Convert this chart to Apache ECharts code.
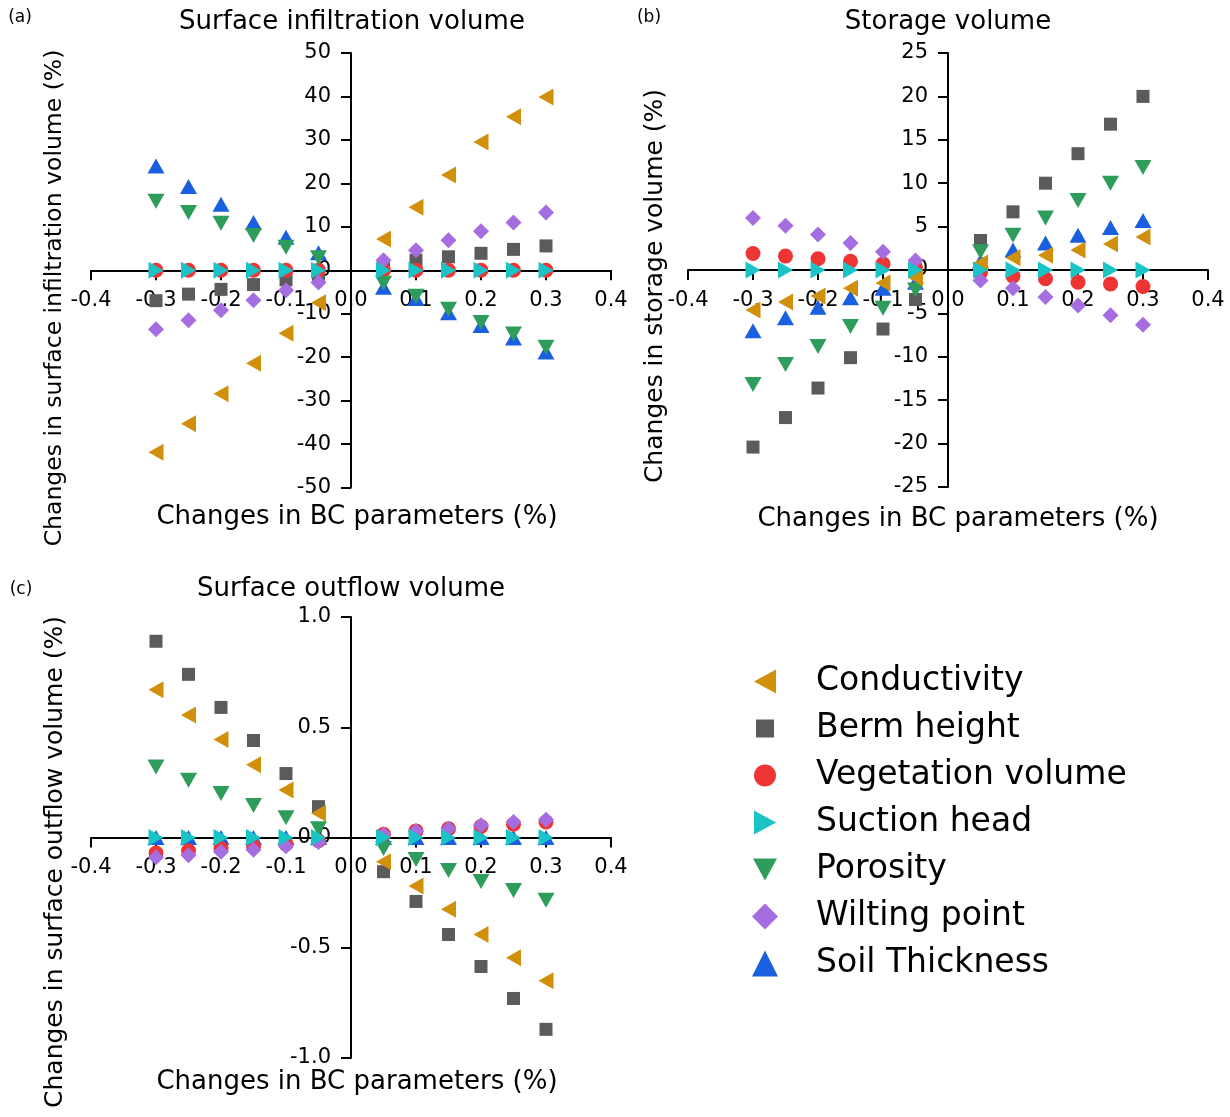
<!DOCTYPE html>
<html>
<head>
<meta charset="utf-8">
<title>Sensitivity of BC parameters</title>
<script src="https://cdn.jsdelivr.net/npm/echarts@6/dist/echarts.min.js"></script>
<style>
  html, body { margin: 0; padding: 0; background: #fff; }
  #main { width: 1230px; height: 1117px; }
</style>
</head>
<body>
<div id="main"></div>
<script>
// changes in BC parameters (x for every panel)
const paramChanges = [-0.3, -0.25, -0.2, -0.15, -0.1, -0.05, 0.05, 0.1, 0.15, 0.2, 0.25, 0.3]

// (a) surface infiltration volume, %
const infilConductivity = [-41.9, -35.3, -28.4, -21.4, -14.5, -7.5, 7.2, 14.5, 21.9, 29.5, 35.3, 39.9]
const infilBerm = [-7, -5.5, -4.4, -3.3, -2.2, -1.1, 1.1, 2.3, 3.1, 3.9, 4.8, 5.6]
const infilVegetation = [0, 0, 0, 0, 0, 0, 0, 0, 0, 0, 0, 0]
const infilSuction = [0, 0, 0, 0, 0, 0, 0, 0, 0, 0, 0, 0]
const infilPorosity = [15.9, 13.3, 10.8, 8.0, 5.3, 2.9, -3.0, -6.0, -9.0, -12.0, -14.7, -17.7]
const infilWilting = [-13.6, -11.5, -9.2, -6.9, -4.6, -2.8, 2.3, 4.6, 6.9, 9.0, 11.0, 13.3]
const infilSoil = [24, 19.3, 15.2, 11, 7.6, 4, -3.9, -6.5, -9.8, -12.7, -15.6, -18.8]

// (b) storage volume, %
const storConductivity = [-4.6, -3.7, -3.0, -2.1, -1.5, -0.9, 0.8, 1.4, 1.7, 2.3, 3.0, 3.8]
const storBerm = [-20.4, -17.0, -13.6, -10.1, -6.8, -3.4, 3.4, 6.7, 10.0, 13.4, 16.8, 20.0]
const storVegetation = [1.9, 1.6, 1.3, 1.0, 0.7, 0.3, -0.3, -0.7, -1.0, -1.4, -1.6, -1.9]
const storSuction = [0, 0, 0, 0, 0, 0, 0, 0, 0, 0, 0, 0]
const storPorosity = [-13.2, -10.9, -8.8, -6.5, -4.4, -2.3, 2.1, 4.0, 6.0, 8.0, 10.0, 11.8]
const storWilting = [6.0, 5.1, 4.1, 3.1, 2.1, 1.1, -1.2, -2.1, -3.1, -4.1, -5.2, -6.3]
const storSoil = [-7.0, -5.5, -4.3, -3.2, -2.1, -1.4, 1.0, 2.3, 3.1, 4.0, 4.9, 5.7]

// (c) surface outflow volume, %
const outConductivity = [0.67, 0.555, 0.445, 0.33, 0.215, 0.11, -0.11, -0.22, -0.325, -0.44, -0.545, -0.65]
const outBerm = [0.89, 0.74, 0.59, 0.44, 0.29, 0.14, -0.155, -0.29, -0.44, -0.585, -0.73, -0.87]
const outVegetation = [-0.07, -0.06, -0.05, -0.04, -0.03, -0.015, 0.015, 0.03, 0.04, 0.05, 0.06, 0.07]
const outSuction = [0, 0, 0, 0, 0, 0, 0, 0, 0, 0, 0, 0]
const outPorosity = [0.32, 0.26, 0.20, 0.145, 0.09, 0.04, -0.05, -0.1, -0.15, -0.2, -0.24, -0.285]
const outWilting = [-0.09, -0.08, -0.065, -0.055, -0.04, -0.02, 0.014, 0.03, 0.04, 0.055, 0.07, 0.08]
const outSoil = [0, 0, 0, 0, 0, 0, 0, 0, 0, 0, 0, 0]

const xTickLabels = ['-0.4', '-0.3', '-0.2', '-0.1', '0.0', '0.1', '0.2', '0.3', '0.4']
const legendNames = ['Conductivity', 'Berm height', 'Vegetation volume', 'Suction head', 'Porosity', 'Wilting point', 'Soil Thickness']

const FONT = 'DejaVu Sans'

// marker look per parameter (drawing order: first is at the bottom)
const markers = {
  'Soil Thickness': { symbol: 'triangle', rotate: 0, size: [17, 15], color: '#1a5fe0', icon: 'triangle' },
  'Berm height': { symbol: 'rect', rotate: 0, size: 13, color: '#5b5b5b', icon: 'path://M0,0M26,26M4,4L22,4L22,22L4,22Z' },
  'Vegetation volume': { symbol: 'circle', rotate: 0, size: 15, color: '#ef3434', icon: 'path://M0,0M26,26M2,13A11,11,0,1,1,24,13A11,11,0,1,1,2,13Z' },
  'Wilting point': { symbol: 'diamond', rotate: 0, size: 16, color: '#a56de0', icon: 'diamond' },
  'Porosity': { symbol: 'triangle', rotate: 180, size: [17, 15], color: '#2e9d5c', icon: 'path://M0,0M26,26M1,2L25,2L13,24Z' },
  'Conductivity': { symbol: 'triangle', rotate: 90, size: [17, 15], color: '#d1900b', icon: 'path://M0,0M26,26M2,13L24,1L24,25Z' },
  'Suction head': { symbol: 'triangle', rotate: -90, size: [17, 15], color: '#19c3c6', icon: 'path://M0,0M26,26M2,1L24,13L2,25Z' },
}

const panels = [
  {
    Conductivity: infilConductivity, 'Berm height': infilBerm, 'Vegetation volume': infilVegetation,
    'Suction head': infilSuction, Porosity: infilPorosity, 'Wilting point': infilWilting, 'Soil Thickness': infilSoil,
  },
  {
    Conductivity: storConductivity, 'Berm height': storBerm, 'Vegetation volume': storVegetation,
    'Suction head': storSuction, Porosity: storPorosity, 'Wilting point': storWilting, 'Soil Thickness': storSoil,
  },
  {
    Conductivity: outConductivity, 'Berm height': outBerm, 'Vegetation volume': outVegetation,
    'Suction head': outSuction, Porosity: outPorosity, 'Wilting point': outWilting, 'Soil Thickness': outSoil,
  },
]

// grid boxes; the axes are shifted onto the zero lines with offset
const grids = [
  { left: 91, top: 53, width: 520, height: 434.5 },
  { left: 688, top: 53, width: 520, height: 434 },
  { left: 91, top: 617, width: 520, height: 441 },
]

function toPoints(values) {
  return paramChanges.map((x, i) => [x, values[i]])
}

function makeXAxis(gridIndex) {
  return {
    type: 'value',
    gridIndex: gridIndex,
    position: 'bottom',
    offset: -grids[gridIndex].height / 2,
    min: -0.4,
    max: 0.4,
    interval: 0.1,
    axisLine: { onZero: false, lineStyle: { color: '#000', width: 2 } },
    axisTick: { show: true, length: 10, lineStyle: { color: '#000', width: 2 } },
    axisLabel: {
      margin: 20,
      color: '#000',
      fontSize: 21,
      fontFamily: FONT,
      formatter: (v) => xTickLabels[Math.round((v + 0.4) * 10)],
    },
    splitLine: { show: false },
  }
}

function makeYAxis(gridIndex, min, max, interval, digits) {
  return {
    type: 'value',
    gridIndex: gridIndex,
    position: 'left',
    offset: -grids[gridIndex].width / 2,
    min: min,
    max: max,
    interval: interval,
    axisLine: { onZero: false, lineStyle: { color: '#000', width: 2 } },
    axisTick: { show: true, length: 10, lineStyle: { color: '#000', width: 2 } },
    axisLabel: {
      margin: 20,
      color: '#000',
      fontSize: 21,
      fontFamily: FONT,
      formatter: (v) => (Math.abs(v) < 1e-9 ? 0 : v).toFixed(digits),
    },
    splitLine: { show: false },
  }
}

function makeText(text, x, y, size, rotation) {
  return {
    type: 'text',
    x: x,
    y: y,
    rotation: rotation || 0,
    style: {
      text: text,
      font: size + 'px "' + FONT + '"',
      fill: '#000',
      textAlign: 'center',
      textVerticalAlign: 'middle',
    },
  }
}

const series = []
panels.forEach((panel, idx) => {
  Object.keys(markers).forEach((name) => {
    const m = markers[name]
    series.push({
      name: name,
      type: 'scatter',
      xAxisIndex: idx,
      yAxisIndex: idx,
      symbol: m.symbol,
      symbolRotate: m.rotate,
      symbolSize: m.size,
      itemStyle: { color: m.color, opacity: 1 },
      data: toPoints(panel[name]),
    })
  })
})

const chartInstance = echarts.init(document.getElementById('main'))
const initOption = {
  animation: false,
  backgroundColor: '#fff',
  grid: grids,
  xAxis: [makeXAxis(0), makeXAxis(1), makeXAxis(2)],
  yAxis: [
    makeYAxis(0, -50, 50, 10, 0),
    makeYAxis(1, -25, 25, 5, 0),
    makeYAxis(2, -1, 1, 0.5, 1),
  ],
  legend: {
    data: legendNames.map((name) => ({ name: name, icon: markers[name].icon })),
    orient: 'vertical',
    left: 747,
    top: 660,
    itemWidth: 26,
    itemHeight: 26,
    itemGap: 14,
    textStyle: { fontSize: 33, fontFamily: FONT, color: '#000', padding: [0, 0, 0, 33] },
  },
  graphic: [
    makeText('(a)', 20, 18, 17),
    makeText('(b)', 649, 18, 17),
    makeText('(c)', 21, 590, 17),
    makeText('Surface infiltration volume', 352, 22, 26),
    makeText('Storage volume', 948, 22, 26),
    makeText('Surface outflow volume', 351, 589, 26),
    makeText('Changes in BC parameters (%)', 357, 517, 26),
    makeText('Changes in BC parameters (%)', 958, 519, 26),
    makeText('Changes in BC parameters (%)', 357, 1082, 26),
    makeText('Changes in surface infiltration volume (%)', 55, 298, 23.5, Math.PI / 2),
    makeText('Changes in storage volume (%)', 655, 286, 25, Math.PI / 2),
    makeText('Changes in surface outflow volume (%)', 55, 862, 25, Math.PI / 2),
  ],
  series: series,
}
chartInstance.setOption(initOption)
</script>
</body>
</html>
